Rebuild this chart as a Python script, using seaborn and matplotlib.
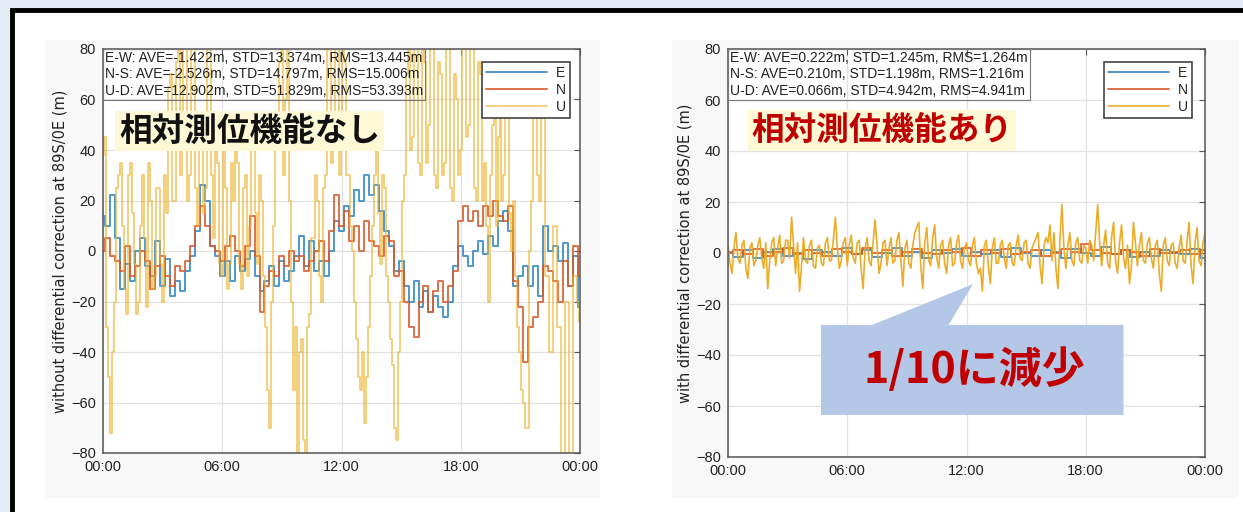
import numpy as np
import pandas as pd
import seaborn as sns
import matplotlib.pyplot as plt
from matplotlib.patches import Rectangle, Polygon

# values (hours since 00:00, metres)
t_en = np.arange(0, 24.01, 0.25)
t_u = np.arange(0, 24.01, 0.1)
t_en_r = np.arange(0, 24.01, 0.5)

e_without = [14, 10, 22, 5, -15, -5, -12, 0, 5, -6, -10, 4, -14, -3, -18, -12, -16, -8, -2, 8, 26, 20, 2, -2, -10,
             -4, -12, -2, -8, -3, 0, -10, -16, -12, -6, -14, -4, -12, -8, -2, 6, -6, 4, -8, -4, -10, 0, 12, 8,
             18, 14, 24, 20, 30, 22, 26, 16, 8, 2, -8, -4, -14, -20, -12, -22, -16, -24, -18, -22, -26, -20, -6, 2,
             -2, -6, 0, 4, -1, 6, 2, 12, 16, 8, -14, -10, -6, -14, -6, -18, 10, 0, 2, -4, 3, -14, -2, -22]
n_without = [0, 5, -2, -4, -8, 2, -10, -6, 0, -4, -15, -6, -2, -10, -14, -6, -8, -4, 2, 10, 18, 10, 2, 0, -4,
             2, 6, 0, -6, 2, 14, -2, -24, -14, -8, -10, -2, -6, 0, -4, -2, -8, -4, 0, 4, -4, 8, 22, 10,
             16, 4, 10, 0, 12, 4, 2, -2, 6, 4, -10, -8, -20, -30, -34, -20, -14, -24, -16, -12, -20, -14, -8, 12,
             18, 12, 16, 10, 18, 14, 20, 14, 12, 18, -12, -22, -44, -30, -26, -20, -6, -8, -12, -20, -4, -14, 2, -10]
u_without = [38, 45, -30, -50, -72, -40, -20, 25, 30, 35, 10, -15, -25, 30, 35, 15, -5, -25, -20, 10,
             30, 5, -22, 35, 20, -15, -10, 25, 25, -5, -20, 30, 15, 65, 70, 20, 20, 75, 80, 30,
             40, 80, 80, 20, 30, 80, 80, 25, 10, 45, 55, 15, 25, 80, 80, 30, 5, 50, 35, -5,
             -10, 40, 25, -15, -5, 35, 20, 45, 35, -5, -15, 25, 30, -10, 10, 40, 40, 15, -5, 30,
             20, -10, -30, -55, -70, -20, 10, 40, 40, 75, 80, 30, 60, 80, 20, -20, -55, -30, -80, -40,
             -35, -75, -80, -30, -25, 5, 5, 30, 20, -10, -20, 25, 30, 80, 80, 35, 40, 80, 80, 30,
             55, 80, 75, 30, 30, 10, 0, -20, -35, -50, -55, -40, -68, -50, -30, -10, 10, 30, 40, 15,
             -5, 30, 25, -10, -20, -35, -45, -70, -75, -40, -20, 20, 30, 70, 80, 40, 45, 80, 80, 35,
             30, 80, 75, 35, 50, 80, 80, 30, 25, 75, 70, 30, 35, 80, 80, 25, 20, 70, 60, 30,
             40, 80, 80, 45, 50, 80, 80, 25, 20, 75, 70, 20, 35, 10, -20, 30, 50, 60, 10, 45,
             65, 20, 30, 60, 55, 15, 0, 20, -10, -30, -40, -55, -60, -70, -70, 0, 20, 65, 75, 30,
             20, 60, 60, -10, -10, -40, -40, 10, 10, -30, -30, -80, -80, -20, -20, -80, -80, -10, -10, -20,
             -28]

e_with = [0.5, -1.5, 1, -2, 0.5, 1.5, -1, 0, -2.5, 1, 0.5, -1, 2, -0.5, 1, -1.5, 0, 2, -1, 0.5,
          -2, 1, 0, 1.5, -1, 0.5, -0.5, 1, -1.5, 2, 0, -1, 1, 0.5, -2, 1.5, 0, -1, 2.5, -0.5,
          1, -1.5, 0.5, -1, 1, 0, -0.5, 1.5, -2]
n_with = [0, 1, -0.5, 1.5, -1, 0.5, 2, -0.5, 1, 0, -1, 1.5, 0.5, -0.5, 2, 0, 1, -1, 0.5, 1.5,
          0, -0.5, 1, 0.5, 2, -1, 1, 0, 1.5, -0.5, 0.5, 1, -1, 0, 1.5, 0.5, 3.5, 1, 0, -0.5,
          1, 0.5, -1, 1.5, 0, 0.5, 1, -0.5, 1]
u_with = [3, -4, -8, 2, 8, -2, -4, 3, 5, -6, -10, 2, 4, -5, -3, 3, 6, -2, -6, 4,
          -14, -3, 4, 6, -5, 2, 7, -4, -3, 5, 5, -2, 14, 3, -8, 4, -15, -5, 6, -3,
          -4, 3, 5, -5, -6, 2, 3, -4, -5, 4, 6, -3, -3, 5, 14, 2, -6, -3, 4, 6,
          -5, 3, 7, -2, -4, 4, 5, -6, -14, 2, 6, -3, -5, 4, 13, 3, -8, -4, 4, 5,
          -5, 2, 6, -4, -3, 5, 8, -3, -13, 2, 5, -4, -6, 3, 8, 10, 12, -5, -14, 4,
          10, -3, -5, 6, 11, -2, -6, 3, 5, -4, -8, 3, 6, -5, -4, 4, 7, -3, -6, 2,
          4, -3, -5, 3, 6, -4, -8, -6, -15, 3, 5, -5, -12, 2, 6, -4, -4, 3, 5, -2,
          -6, 3, 4, -4, -5, 3, 7, -2, -3, 4, 5, -4, -6, 2, 4, 6, 8, -5, -12, 3,
          6, 4, 11, -3, 8, -6, -14, 5, 19, 2, -6, 3, 8, -3, -5, 4, 6, -3, -4, 3,
          2, -4, 5, 3, -3, 8, 19, 4, -5, 3, 9, -4, -6, 6, 12, -3, -8, 4, 11, -2,
          -6, 3, -12, -5, 12, 4, -5, 3, 8, -3, -4, 4, 6, -2, -6, 3, 5, -8, -15, 3,
          6, -3, -5, 3, 4, -4, -6, 2, 7, -3, -4, 5, 12, -5, -12, 4, 10, -3, -5, 4,
          8]

stats_without = ['E-W: AVE=-1.422m, STD=13.374m, RMS=13.445m',
                 'N-S: AVE=-2.526m, STD=14.797m, RMS=15.006m',
                 'U-D: AVE=12.902m, STD=51.829m, RMS=53.393m']
stats_with = ['E-W: AVE=0.222m, STD=1.245m, RMS=1.264m',
              'N-S: AVE=0.210m, STD=1.198m, RMS=1.216m',
              'U-D: AVE=0.066m, STD=4.942m, RMS=4.941m']
xticks = [0, 6, 12, 18, 24]
xtick_labels = ['00:00', '06:00', '12:00', '18:00', '00:00']
yticks = list(range(-80, 81, 20))

sns.set_style('white')
plt.rcParams['font.family'] = ['Liberation Sans', 'Noto Sans CJK JP', 'DejaVu Sans']

C_E, C_N = '#2f86c4', '#d9592a'
JP = ['Noto Sans CJK JP', 'DejaVu Sans']

W, H = 1243, 512
fig = plt.figure(figsize=(W / 100, H / 100), dpi=100, facecolor='#e6ecf6')
# slide frame and the two pasted images
fig.patches.append(Rectangle((12 / W, -0.05), 1.1, 1 - 10 / H + 0.05, transform=fig.transFigure,
                             fc='white', ec='black', lw=3.5, zorder=0))
for x0, x1 in [(45, 600), (672, 1238)]:
    fig.patches.append(Rectangle((x0 / W, 1 - 498 / H), (x1 - x0) / W, 458 / H,
                                 transform=fig.transFigure, fc='#f8f8f8', ec='none', zorder=0.5))

ax1 = fig.add_axes([103 / W, 1 - 453 / H, 477 / W, 404 / H])
ax2 = fig.add_axes([728 / W, 1 - 457 / H, 477 / W, 408 / H])
ax1.set_zorder(2)
ax2.set_zorder(2)


def panel(ax, t_e, e, n, u, u_color, u_alpha, u_style, stats, ylabel, leg_x):
    df_e = pd.DataFrame({'t': t_e, 'v': e})
    df_n = pd.DataFrame({'t': t_e, 'v': n})
    df_u = pd.DataFrame({'t': t_u, 'v': u})
    sns.lineplot(data=df_e, x='t', y='v', ax=ax, color=C_E, lw=1.4, alpha=0.85,
                 drawstyle='steps-mid', label='E')
    sns.lineplot(data=df_n, x='t', y='v', ax=ax, color=C_N, lw=1.4, alpha=0.85,
                 drawstyle='steps-mid', label='N')
    sns.lineplot(data=df_u, x='t', y='v', ax=ax, color=u_color, lw=1.2, alpha=u_alpha,
                 drawstyle=u_style, label='U')

    ax.set_facecolor('white')
    ax.set_xlim(0, 24)
    ax.set_ylim(-80, 80)
    ax.set_xticks(xticks)
    ax.set_xticklabels(xtick_labels)
    ax.set_yticks(yticks)
    ax.grid(True, color='#e2e2e2', lw=0.9)
    ax.set_axisbelow(True)
    ax.tick_params(direction='in', top=True, right=True, length=4, color='#555',
                   labelsize=10.5, labelcolor='#222', pad=5)
    for s in ax.spines.values():
        s.set_color('#555')
        s.set_linewidth(1.1)
    ax.set_xlabel('')
    ax.set_ylabel(ylabel, fontsize=10.5, color='#222', labelpad=3,
                  family=['DejaVu Sans'])

    ax.text(0.004, 0.996, '\n'.join(stats), transform=ax.transAxes, va='top', ha='left',
            fontsize=10, color='#222', linespacing=1.25,
            bbox=dict(boxstyle='square,pad=0.15', fc='none', ec='#777', lw=0.8))

    leg = ax.legend(loc='upper right', bbox_to_anchor=(leg_x, 0.968), borderaxespad=0,
                    handlelength=4.4, fontsize=10, frameon=True, fancybox=False,
                    edgecolor='#444', borderpad=0.3, labelspacing=0.2, handletextpad=0.6,
                    framealpha=1)
    leg.get_frame().set_linewidth(1.2)


panel(ax1, t_en, e_without, n_without, u_without, '#ebb12a', 0.7, 'steps-mid', stats_without,
      'without differential correction at 89S/0E (m)', 0.979)
panel(ax2, t_en_r, e_with, n_with, u_with, '#eaa81e', 0.95, 'default', stats_with,
      'with differential correction at 89S/0E (m)', 0.973)

ax1.text(0.308, 0.797, '相対測位機能なし', transform=ax1.transAxes, ha='center', va='center',
         fontsize=23.5, fontweight='bold', family=JP, color='#111',
         bbox=dict(boxstyle='square,pad=0.12', fc='#fdf9d6', ec='none'), zorder=6)
ax2.text(0.323, 0.801, '相対測位機能あり', transform=ax2.transAxes, ha='center', va='center',
         fontsize=23.5, fontweight='bold', family=JP, color='#c00000',
         bbox=dict(boxstyle='square,pad=0.12', fc='#fdf9d6', ec='none'), zorder=6)

# callout pointing at the reduced scatter
callout = [(4.68, -28.2), (7.25, -28.2), (12.33, -12.2), (11.1, -28.2),
           (19.9, -28.2), (19.9, -63.5), (4.68, -63.5)]
ax2.add_patch(Polygon(callout, closed=True, fc='#b4c7e7', ec='none', zorder=7, clip_on=False))
ax2.text(12.4, -45.9, '1/10に減少', ha='center', va='center', fontsize=31, fontweight='bold',
         family=JP, color='#c00000', zorder=8)

fig.savefig('out.png', dpi=100, facecolor=fig.get_facecolor())
